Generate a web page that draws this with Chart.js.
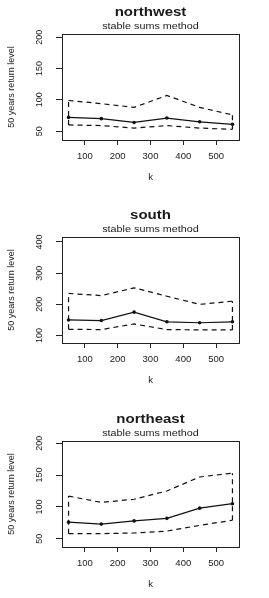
<!DOCTYPE html>
<html>
<head>
<meta charset="utf-8">
<script src="https://cdn.jsdelivr.net/npm/chart.js@4.4.1/dist/chart.umd.min.js"></script>
<style>
html, body { margin: 0; padding: 0; background: #fff; overflow: hidden; }
.panel { position: absolute; left: 0; width: 269px; height: 192px; }
</style>
</head>
<body>
<div class="panel" style="top:0px"><canvas id="nw" width="269" height="192"></canvas></div>
<div class="panel" style="top:203px"><canvas id="south" width="269" height="192"></canvas></div>
<div class="panel" style="top:407px"><canvas id="ne" width="269" height="192"></canvas></div>
<script>
// chart values
const kValues = [50, 150, 250, 350, 450, 550];

const nwEstimate = [72, 70, 64, 71, 65, 61];
const nwUpper = [99, 94, 88, 107, 88, 76];
const nwLower = [60, 59, 55, 59, 55, 53];

const southEstimate = [150, 148, 175, 144, 141, 144];
const southUpper = [235, 228, 253, 226, 200, 210];
const southLower = [120, 119, 137, 119, 118, 118];

const neEstimate = [76, 73, 78, 82, 98, 105];
const neUpper = [117, 107, 112, 125, 147, 153];
const neLower = [58, 58, 59, 62, 71, 79];

const panelTitles = ["northwest", "south", "northeast"];
const subTitle = "stable sums method";
const yTitle = "50 years return level";
const xTitle = "k";

Chart.defaults.font.family = '"Liberation Sans", Arial, sans-serif';

// draws the R style box, rotated y labels and titles
const rStyle = {
    id: 'rStyle',
    afterDraw(chart, args, opts) {
        const ctx = chart.ctx;
        const a = chart.chartArea;
        const y = chart.scales.y;
        const cx = (a.left + a.right) / 2;
        const cy = (a.top + a.bottom) / 2;
        ctx.save();
        ctx.strokeStyle = '#222';
        ctx.lineWidth = 1;
        ctx.strokeRect(Math.round(a.left) + 0.5, Math.round(a.top) + 0.5,
            Math.round(a.right - a.left), Math.round(a.bottom - a.top));

        ctx.fillStyle = '#1a1a1a';
        ctx.textAlign = 'center';
        ctx.textBaseline = 'middle';
        ctx.font = '9px "Liberation Sans", Arial, sans-serif';
        y.ticks.forEach(t => {
            ctx.save();
            ctx.translate(40, y.getPixelForValue(t.value));
            ctx.rotate(-Math.PI / 2);
            ctx.fillText(t.label, 0, 0);
            ctx.restore();
        });

        ctx.save();
        ctx.translate(12, cy);
        ctx.rotate(-Math.PI / 2);
        ctx.font = '9px "Liberation Sans", Arial, sans-serif';
        ctx.fillText(yTitle, 0, 0);
        ctx.restore();

        ctx.textBaseline = 'alphabetic';
        ctx.font = '9.5px "Liberation Sans", Arial, sans-serif';
        ctx.fillText(xTitle, cx, 180);

        ctx.save();
        ctx.translate(cx, 29);
        ctx.scale(1.2, 1);
        ctx.font = '9px "Liberation Sans", Arial, sans-serif';
        ctx.fillText(subTitle, 0, 0);
        ctx.restore();

        ctx.save();
        ctx.translate(cx, 16);
        ctx.scale(1.25, 1);
        ctx.font = 'bold 12px "Liberation Sans", Arial, sans-serif';
        ctx.fillText(opts.title, 0, 0);
        ctx.restore();
        ctx.restore();
    }
};

function toPoints(vals) {
    return kValues.map((k, i) => ({ x: k, y: vals[i] }));
}

function makePanel(id, title, est, upper, lower, yMin, yMax, yStep) {
    const last = kValues.length - 1;
    const dashed = { borderColor: '#111', borderWidth: 1.2, borderDash: [5, 4], pointRadius: 0, fill: false };
    new Chart(document.getElementById(id), {
        type: 'line',
        data: {
            datasets: [
                Object.assign({ data: toPoints(upper) }, dashed),
                Object.assign({ data: toPoints(lower) }, dashed),
                Object.assign({ data: [{ x: kValues[0], y: lower[0] }, { x: kValues[0], y: upper[0] }] }, dashed),
                Object.assign({ data: [{ x: kValues[last], y: lower[last] }, { x: kValues[last], y: upper[last] }] }, dashed),
                {
                    data: toPoints(est),
                    borderColor: '#111',
                    borderWidth: 1.2,
                    pointRadius: 1.8,
                    pointBorderWidth: 0,
                    pointBackgroundColor: '#111',
                    fill: false
                }
            ]
        },
        options: {
            responsive: false,
            animation: false,
            devicePixelRatio: 1,
            layout: { padding: { left: 0, right: 30, top: 34, bottom: 0 } },
            plugins: {
                legend: { display: false },
                tooltip: { enabled: false },
                rStyle: { title: title }
            },
            scales: {
                x: {
                    type: 'linear',
                    min: 30,
                    max: 570,
                    afterFit(s) { s.height = 52; },
                    border: { display: false },
                    grid: { drawOnChartArea: false, drawTicks: true, tickLength: 5, color: '#222' },
                    ticks: {
                        stepSize: 100,
                        includeBounds: false,
                        color: '#1a1a1a',
                        padding: 6,
                        maxRotation: 0,
                        font: { size: 9.5 }
                    }
                },
                y: {
                    type: 'linear',
                    min: yMin,
                    max: yMax,
                    afterFit(s) { s.width = 62; },
                    border: { display: false },
                    grid: { drawOnChartArea: false, drawTicks: true, tickLength: 6, color: '#222' },
                    ticks: { stepSize: yStep, includeBounds: false, display: false }
                }
            }
        },
        plugins: [rStyle]
    });
}

makePanel('nw', panelTitles[0], nwEstimate, nwUpper, nwLower, 36, 205, 50);
makePanel('south', panelTitles[1], southEstimate, southUpper, southLower, 76, 416, 100);
makePanel('ne', panelTitles[2], neEstimate, neUpper, neLower, 37, 203.5, 50);
</script>
</body>
</html>
